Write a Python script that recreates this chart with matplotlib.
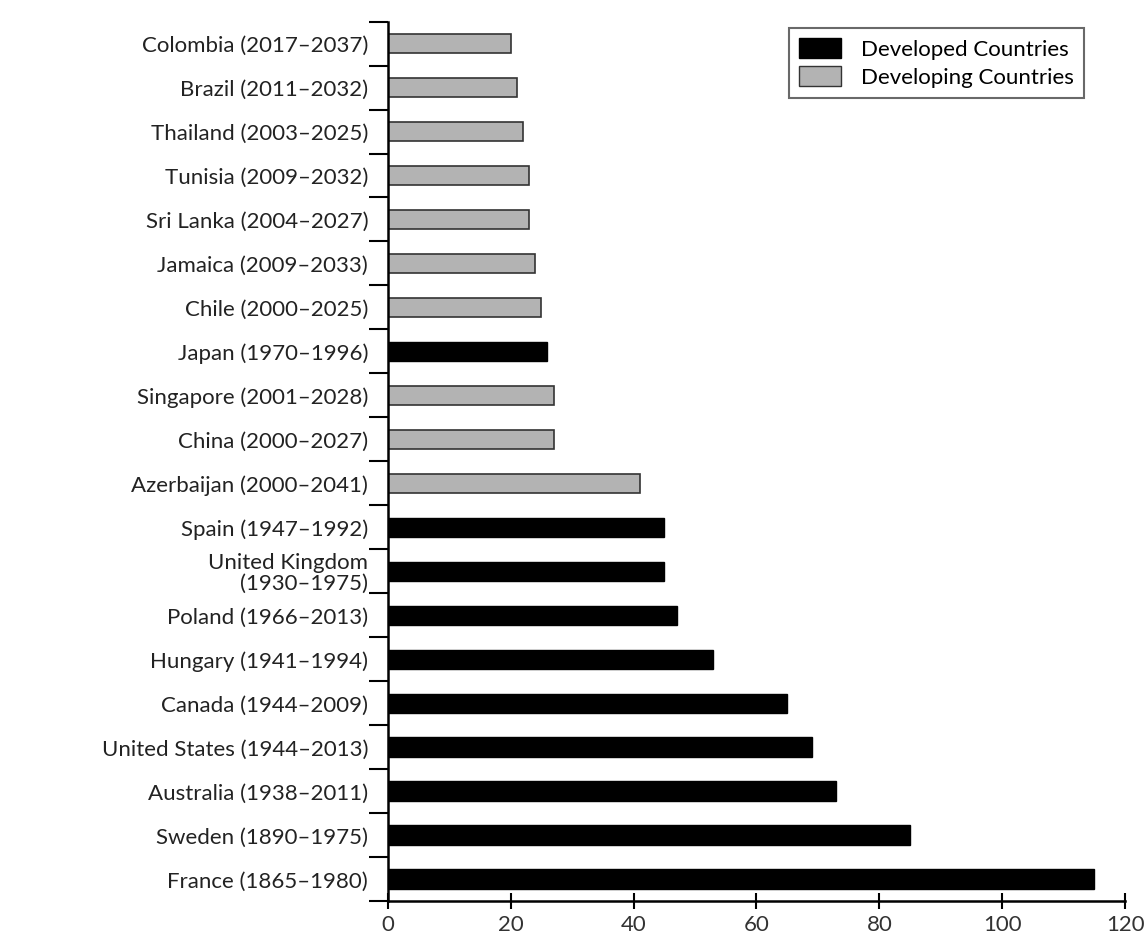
import numpy as np
import matplotlib.pyplot as plt
from matplotlib.patches import Patch

# years taken for share aged 65+ to go from 7% to 14%
countries = ["Colombia (2017\u20132037)", "Brazil (2011\u20132032)", "Thailand (2003\u20132025)",
             "Tunisia (2009\u20132032)", "Sri Lanka (2004\u20132027)", "Jamaica (2009\u20132033)",
             "Chile (2000\u20132025)", "Japan (1970\u20131996)", "Singapore (2001\u20132028)",
             "China (2000\u20132027)", "Azerbaijan (2000\u20132041)", "Spain (1947\u20131992)",
             "United Kingdom\n(1930\u20131975)", "Poland (1966\u20132013)", "Hungary (1941\u20131994)",
             "Canada (1944\u20132009)", "United States (1944\u20132013)", "Australia (1938\u20132011)",
             "Sweden (1890\u20131975)", "France (1865\u20131980)"]
years = [20, 21, 22, 23, 23, 24, 25, 26, 27, 27, 41, 45, 45, 47, 53, 65, 69, 73, 85, 115]
developed = [False, False, False, False, False, False, False, True, False, False,
             False, True, True, True, True, True, True, True, True, True]
xticks = [0, 20, 40, 60, 80, 100, 120]

plt.rcParams['font.family'] = ['Lato', 'DejaVu Sans']

fig = plt.figure(figsize=(11.47, 9.36), dpi=100)
ax = fig.add_axes([0.338, 0.037, 0.643, 0.94])

y = np.arange(len(countries))
for i, (v, dev) in enumerate(zip(years, developed)):
    if dev:
        ax.barh(y[i], v, height=0.45, color="black", edgecolor="black")
    else:
        ax.barh(y[i], v, height=0.45, color="#b3b3b3", edgecolor="#333333", linewidth=1.2)

ax.set_ylim(len(countries) - 0.5, -0.5)
ax.set_xlim(0, 120)
ax.set_xticks(xticks)
ax.set_xticklabels([str(t) for t in xticks], fontsize=16, color="#333333")
ax.set_yticks(y)
ax.set_yticklabels(countries, fontsize=16, color="#222222", linespacing=1.0)
ax.tick_params(axis="y", length=0, pad=14)
ax.set_yticks(np.arange(-0.5, len(countries), 1), minor=True)
ax.tick_params(axis="y", which="minor", length=14, width=1.5, direction="out")
ax.tick_params(axis="x", length=12, width=1.5, direction="inout", pad=4)

for s in ["top", "right"]:
    ax.spines[s].set_visible(False)
ax.spines["left"].set_linewidth(1.8)
ax.spines["bottom"].set_linewidth(1.8)

handles = [Patch(facecolor="black", edgecolor="black", label="Developed Countries"),
           Patch(facecolor="#b3b3b3", edgecolor="#333333", label="Developing Countries")]
leg = fig.legend(handles=handles, loc="upper left", bbox_to_anchor=(0.678, 0.982),
                 fontsize=16, frameon=True, fancybox=False, edgecolor="#444444",
                 handlelength=1.9, handleheight=1.0, borderpad=0.45, labelspacing=0.3,
                 handletextpad=0.9)
leg.get_frame().set_linewidth(1.5)

fig.savefig("out.png", dpi=100)
